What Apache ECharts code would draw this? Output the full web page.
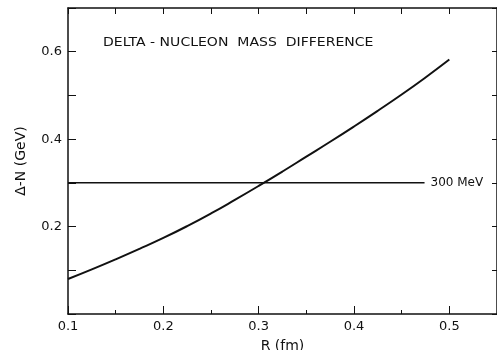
<!DOCTYPE html>
<html>
<head>
    <meta charset="UTF-8">
    <title>Delta-Nucleon Mass Difference</title>
    <style>
        html, body {
            margin: 0;
            padding: 0;
            width: 100%;
            height: 100%;
            overflow: hidden;
            background: #fff;
        }
        #main {
            width: 497px;
            height: 350px;
        }
    </style>
    <script src="https://cdn.jsdelivr.net/npm/echarts@6/dist/echarts.min.js"></script>
</head>
<body>
    <div id="main"></div>

    <script>
        // R (fm) values
        const radius = [0.1, 0.125, 0.15, 0.175, 0.2, 0.225, 0.25, 0.275, 0.3,
                        0.325, 0.35, 0.375, 0.4, 0.425, 0.45, 0.475, 0.5];
        // Delta - N mass difference (GeV)
        const massDiff = [0.080, 0.102, 0.125, 0.149, 0.174, 0.201, 0.230, 0.261, 0.293,
                          0.326, 0.360, 0.394, 0.429, 0.465, 0.502, 0.541, 0.582];
        // 300 MeV reference line
        const refX = [0.1, 0.474];
        const refY = [0.3, 0.3];
        const refLabel = '300 MeV';
        const yLabels = [0.2, 0.4, 0.6];

        const ink = '#111';
        const font = 'DejaVu Sans';

        const chart = echarts.init(document.getElementById('main'));

        const option = {
            animation: false,
            backgroundColor: '#fff',
            // panel title, stretched a little to match the wide lettering
            graphic: [{
                type: 'text',
                x: 103,
                y: 37,
                scaleX: 1.22,
                style: {
                    text: 'DELTA - NUCLEON  MASS  DIFFERENCE',
                    font: '11.5px "DejaVu Sans"',
                    fill: ink
                }
            }],
            grid: { left: 68, right: 0, top: 8, bottom: 36, outerBoundsMode: 'none', containLabel: false },
            xAxis: [
                {
                    type: 'value',
                    min: 0.1,
                    max: 0.55,
                    interval: 0.1,
                    name: 'R (fm)',
                    nameLocation: 'middle',
                    nameGap: 25,
                    nameTextStyle: { fontFamily: font, fontSize: 14, color: ink },
                    axisLine: { onZero: false, lineStyle: { color: ink, width: 1.5 } },
                    axisTick: { inside: true, length: 8, lineStyle: { color: ink, width: 1 } },
                    minorTick: { show: true, splitNumber: 2, length: 4, lineStyle: { color: ink, width: 1 } },
                    axisLabel: {
                        fontFamily: font, fontSize: 13, color: ink, margin: 6,
                        showMaxLabel: false,
                        formatter: v => v.toFixed(1)
                    },
                    splitLine: { show: false }
                },
                {
                    type: 'value',
                    position: 'top',
                    min: 0.1,
                    max: 0.55,
                    interval: 0.05,
                    axisLine: { onZero: false, lineStyle: { color: ink, width: 1.5 } },
                    axisTick: { inside: true, length: 6, lineStyle: { color: ink, width: 1 } },
                    axisLabel: { show: false },
                    splitLine: { show: false }
                }
            ],
            yAxis: [
                {
                    type: 'value',
                    min: 0,
                    max: 0.7,
                    interval: 0.1,
                    name: 'Δ-N (GeV)',
                    nameLocation: 'middle',
                    nameGap: 40,
                    nameTextStyle: { fontFamily: font, fontSize: 14, color: ink },
                    axisLine: { onZero: false, lineStyle: { color: ink, width: 1.5 } },
                    axisTick: { inside: true, length: 8, lineStyle: { color: ink, width: 1 } },
                    axisLabel: {
                        fontFamily: font, fontSize: 13, color: ink, margin: 6,
                        formatter: v => yLabels.some(l => Math.abs(l - v) < 1e-6) ? v.toFixed(1) : ''
                    },
                    splitLine: { show: false }
                },
                {
                    type: 'value',
                    position: 'right',
                    min: 0,
                    max: 0.7,
                    interval: 0.1,
                    axisLine: { onZero: false, lineStyle: { color: ink, width: 1.5 } },
                    axisTick: { inside: true, length: 5, lineStyle: { color: ink, width: 1 } },
                    axisLabel: { show: false },
                    splitLine: { show: false }
                }
            ],
            series: [
                {
                    type: 'line',
                    data: radius.map((r, i) => [r, massDiff[i]]),
                    smooth: true,
                    showSymbol: false,
                    lineStyle: { color: ink, width: 2 }
                },
                {
                    type: 'line',
                    data: refX.map((r, i) => [r, refY[i]]),
                    showSymbol: false,
                    lineStyle: { color: ink, width: 1.5 },
                    endLabel: {
                        show: true,
                        formatter: refLabel,
                        fontFamily: font,
                        fontSize: 12,
                        color: ink,
                        distance: 6
                    }
                }
            ]
        };

        chart.setOption(option);
        window.addEventListener('resize', () => chart.resize());
    </script>
</body>
</html>
